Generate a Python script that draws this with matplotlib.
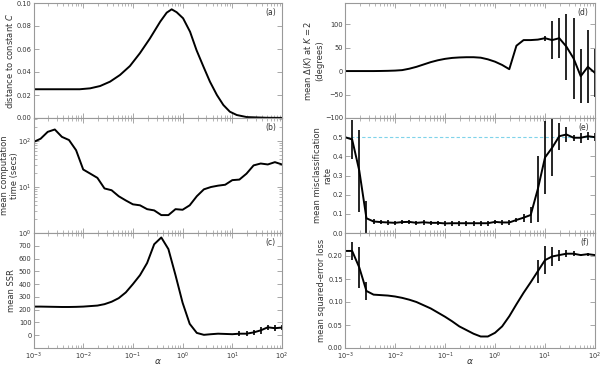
import numpy as np
import matplotlib
matplotlib.use("Agg")
import matplotlib.pyplot as plt
from matplotlib.ticker import LogLocator, NullFormatter

# ---------------- data ----------------
alpha = np.logspace(-3, 2, 36)

# (a) distance to constant C (smooth curve, read points)
a_log_alpha = [-3.0, -2.5, -2.07, -1.86, -1.66, -1.46, -1.26, -1.06, -0.86, -0.66,
               -0.45, -0.32, -0.22, -0.12, 0.01, 0.15, 0.28, 0.42, 0.55, 0.69,
               0.82, 0.95, 1.09, 1.29, 1.69, 2.0]
a_dist = [0.025, 0.025, 0.025, 0.0258, 0.0278, 0.0316, 0.0374, 0.0452, 0.0563, 0.069,
          0.0838, 0.0916, 0.0945, 0.092, 0.0867, 0.075, 0.059, 0.0446, 0.0316, 0.020,
          0.0113, 0.0055, 0.0026, 0.0008, 0.0002, 0.0001]

# (b) mean computation time (secs)
b_time = [95, 112, 158, 178, 123, 105, 63, 24, 19.5, 15.8, 9.3, 8.5, 6.3, 5.1, 4.2,
          4.0, 3.3, 3.1, 2.45, 2.45, 3.3, 3.2, 4.0, 6.3, 8.9, 10.0, 10.7, 11.2, 14.1,
          14.5, 19.5, 29.5, 32.4, 30.9, 34.7, 30.9]

# (c) mean SSR
c_ssr = [224, 224, 223, 222, 221, 221, 222, 224, 228, 232, 243, 262, 290, 335, 400,
         470, 565, 712, 765, 674, 470, 254, 89, 18, 3, 8, 12, 10, 8, 12, 12, 22,
         38, 62, 55, 60]
c_err = [0] * 29 + [20, 20, 22, 25, 20, 22, 22]

# (d) mean Delta(K) at K=2 (degrees)
d_delta = [0, 0, 0, 0, 0, 0.2, 0.5, 1, 2, 5, 9, 14, 19, 23, 26, 28, 29, 29.5, 29.5,
           28.5, 25, 20, 13, 4, 54, 66, 66, 67, 70, 66, 70, 52, 27, -11, 9, -4]
d_err = [0] * 28 + [5, 41, 43, 70, 87, 57, 78, 52]

# (e) mean misclassification rate
e_rate = [0.50, 0.488, 0.325, 0.077, 0.060, 0.057, 0.055, 0.053, 0.057, 0.058, 0.053,
          0.056, 0.053, 0.053, 0.050, 0.051, 0.051, 0.051, 0.051, 0.051, 0.051, 0.058,
          0.055, 0.055, 0.068, 0.080, 0.094, 0.23, 0.394, 0.445, 0.505, 0.514, 0.497,
          0.497, 0.505, 0.50]
e_err = [0, 0.10, 0.215, 0.09] + [0.012] * 20 + [0.012, 0.02, 0.04, 0.17, 0.19, 0.15,
                                                  0.07, 0.04, 0.015, 0.025, 0.02, 0.02]

# (f) mean squared-error loss
f_loss = [0.211, 0.211, 0.175, 0.124, 0.116, 0.115, 0.114, 0.112, 0.109, 0.105, 0.100,
          0.093, 0.086, 0.077, 0.068, 0.058, 0.047, 0.039, 0.031, 0.025, 0.025, 0.033,
          0.047, 0.069, 0.095, 0.120, 0.143, 0.167, 0.191, 0.199, 0.202, 0.205, 0.205,
          0.202, 0.204, 0.202]
f_err = [0, 0.02, 0.045, 0.02] + [0] * 23 + [0.025, 0.03, 0.02, 0.012, 0.008, 0.005,
                                             0.003, 0.003, 0.003]

# ---------------- style ----------------
plt.rcParams.update({
    "font.family": "DejaVu Sans",
    "font.size": 5.5,
    "axes.edgecolor": "#999999",
    "axes.linewidth": 0.8,
    "xtick.color": "#999999",
    "ytick.color": "#999999",
    "xtick.labelcolor": "#333333",
    "ytick.labelcolor": "#333333",
    "xtick.direction": "in",
    "ytick.direction": "in",
    "xtick.top": True,
    "ytick.right": True,
    "xtick.labelsize": 4.8,
    "ytick.labelsize": 4.8,
    "xtick.major.pad": 2,
    "ytick.major.pad": 1.5,
    "axes.labelcolor": "#333333",
    "axes.labelpad": 1,
    "mathtext.fontset": "dejavusans",
})

fig = plt.figure(figsize=(6.0, 3.66), dpi=100)

W, H = 600.0, 366.0
top, bot = 3.0, 348.0
ph = (bot - top) / 3.0


def make_ax(x0, x1, row):
    y_top = top + row * ph
    return fig.add_axes([x0 / W, 1 - (y_top + ph) / H, (x1 - x0) / W, ph / H])


lc = "black"
lw = 1.4

axes = []
for col, (x0, x1) in enumerate([(33.5, 282.0), (345.0, 595.0)]):
    for row in range(3):
        ax = make_ax(x0, x1, row)
        ax.set_xscale("log")
        ax.set_xlim(1e-3, 1e2)
        ax.xaxis.set_major_locator(LogLocator(base=10, numticks=10))
        ax.xaxis.set_minor_locator(LogLocator(base=10, subs=np.arange(2, 10), numticks=20))
        ax.tick_params(which="major", length=3.5, width=0.6)
        ax.tick_params(which="minor", length=2, width=0.5)
        if row < 2:
            ax.tick_params(labelbottom=False)
        axes.append(ax)

axa, axb, axc, axd, axe, axf = axes

# (a)
axa.plot(10 ** np.array(a_log_alpha), a_dist, color=lc, lw=lw)
axa.set_ylim(0, 0.1)
axa.set_yticks([0, 0.02, 0.04, 0.06, 0.08, 0.10])
axa.set_yticklabels(["0.00", "0.02", "0.04", "0.06", "0.08", "0.10"])
axa.set_ylabel("distance to constant $C$")

# (b)
axb.plot(alpha, b_time, color=lc, lw=lw)
axb.set_yscale("log")
axb.set_ylim(1, 10 ** 2.5)
axb.yaxis.set_minor_locator(LogLocator(base=10, subs=np.arange(2, 10), numticks=20))
axb.yaxis.set_minor_formatter(NullFormatter())
axb.set_yticks([1, 10, 100])
axb.set_ylabel("mean computation\ntime (secs)")

# (c)
axc.errorbar(alpha, c_ssr, yerr=c_err, color=lc, lw=lw, elinewidth=1.2, capsize=0)
axc.set_ylim(-100, 800)
axc.set_yticks([0, 100, 200, 300, 400, 500, 600, 700])
axc.set_ylabel("mean SSR")
axc.set_xlabel(r"$\alpha$")

# (d)
axd.errorbar(alpha, d_delta, yerr=d_err, color=lc, lw=lw, elinewidth=1.2, capsize=0)
axd.set_ylim(-100, 145)
axd.set_yticks([-100, -50, 0, 50, 100])
axd.set_ylabel("mean $\\Delta(K)$ at $K=2$\n(degrees)")

# (e)
axe.axhline(0.5, color="#7fd3ea", lw=0.8, ls=(0, (3, 2)))
axe.errorbar(alpha, e_rate, yerr=e_err, color=lc, lw=lw, elinewidth=1.2, capsize=0)
axe.set_ylim(0, 0.6)
axe.set_yticks([0, 0.1, 0.2, 0.3, 0.4, 0.5])
axe.set_ylabel("mean misclassification\nrate")

# (f)
axf.errorbar(alpha, f_loss, yerr=f_err, color=lc, lw=lw, elinewidth=1.2, capsize=0)
axf.set_ylim(0, 0.25)
axf.set_yticks([0, 0.05, 0.10, 0.15, 0.20])
axf.set_yticklabels(["0.00", "0.05", "0.10", "0.15", "0.20"])
axf.set_ylabel("mean squared-error loss")
axf.set_xlabel(r"$\alpha$")

for ax, lab in zip(axes, ["(a)", "(b)", "(c)", "(d)", "(e)", "(f)"]):
    ax.text(0.975, 0.92, lab, transform=ax.transAxes, ha="right", va="center",
            fontsize=5.5, color="#333333")
    ax.xaxis.label.set_size(6.5)
    ax.yaxis.label.set_size(6)
    ax.xaxis.set_label_coords(0.5, -0.075)

# label right edges (pixels)
for ax, xr, x0, w in [(axa, 15, 33.5, 248.5), (axb, 19, 33.5, 248.5), (axc, 16, 33.5, 248.5),
                      (axd, 324, 345, 250), (axe, 332, 345, 250), (axf, 326, 345, 250)]:
    ax.yaxis.set_label_coords((xr - x0) / w, 0.5)

fig.savefig("out.png", dpi=100)
